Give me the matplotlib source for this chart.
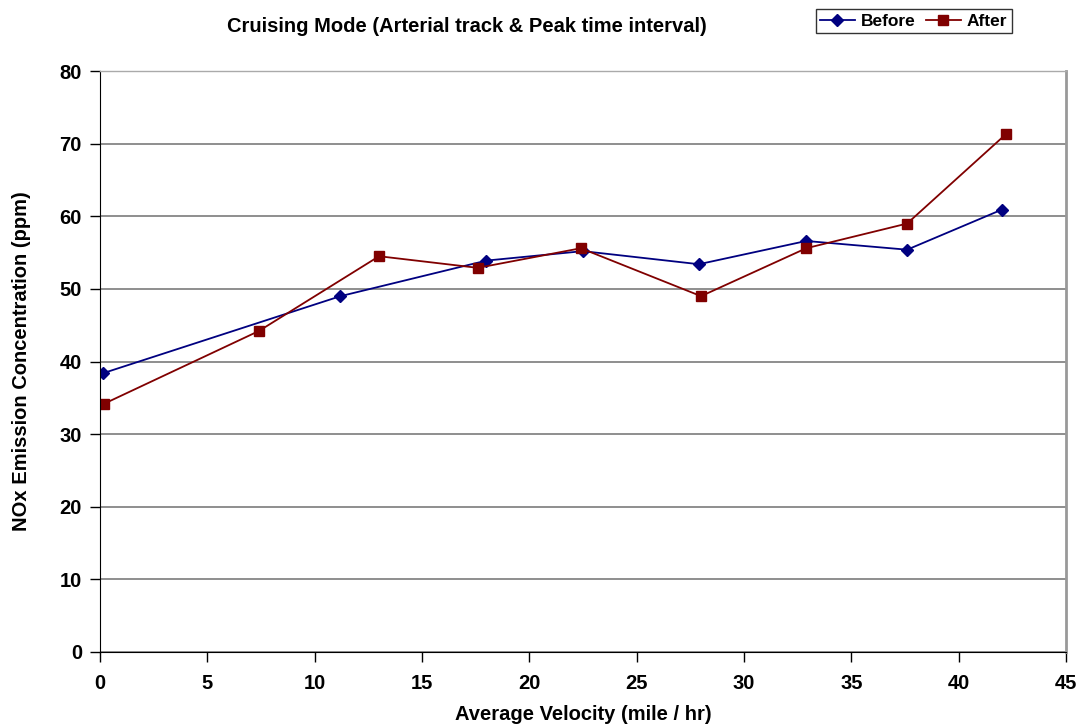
import matplotlib
matplotlib.use("Agg")
import matplotlib.pyplot as plt

plt.rcParams['font.family'] = ['Liberation Sans', 'DejaVu Sans']
plt.rcParams['font.weight'] = 'bold'

# NOx readings, cruising mode on the arterial track at peak time
before_v = [0.15, 11.2, 18.0, 22.5, 27.9, 32.9, 37.6, 42.0]
before_nox = [38.4, 49.0, 53.9, 55.2, 53.4, 56.6, 55.4, 60.9]
after_v = [0.2, 7.4, 13.0, 17.6, 22.4, 28.0, 32.9, 37.6, 42.2]
after_nox = [34.2, 44.2, 54.5, 52.9, 55.6, 49.0, 55.6, 59.0, 71.3]

fig = plt.figure(figsize=(10.8, 7.25), dpi=100)
ax = fig.add_axes([0.0926, 0.1007, 0.8944, 0.8013])

ax.plot(before_v, before_nox, color='#000080', marker='D', markersize=6,
        linewidth=1.3, label='Before')
ax.plot(after_v, after_nox, color='#800000', marker='s', markersize=7,
        linewidth=1.3, label='After')

ax.set_xlim(0, 45)
ax.set_ylim(0, 80)
ax.set_xticks(range(0, 46, 5))
ax.set_yticks(range(0, 81, 10))
ax.yaxis.grid(True, color='#707070', linewidth=1.1)
ax.set_axisbelow(True)
ax.tick_params(axis='both', labelsize=14.5, direction='out', length=7, width=1)
ax.tick_params(axis='x', pad=9)
ax.tick_params(axis='y', pad=6)
for lab in ax.get_xticklabels() + ax.get_yticklabels():
    lab.set_fontweight('bold')

ax.spines['left'].set_color('black')
ax.spines['bottom'].set_color('black')
ax.spines['right'].set_color('#999999')
ax.spines['top'].set_color('#aaaaaa')
ax.spines['right'].set_linewidth(2)
ax.spines['top'].set_linewidth(1)

ax.set_xlabel('Average Velocity (mile / hr)', fontsize=14.5, fontweight='bold')
ax.xaxis.label.set_va('center')
ax.xaxis.set_label_coords(0.5, -0.108)
ax.set_ylabel('NOx Emission Concentration (ppm)', fontsize=14.5, fontweight='bold')
ax.yaxis.set_label_coords(-0.071, 0.5)
fig.text(0.432, 0.963, 'Cruising Mode (Arterial track & Peak time interval)',
         ha='center', va='center', fontsize=14.5, fontweight='bold')

leg = fig.legend(loc='center', bbox_to_anchor=(0.846, 0.971), ncol=2,
                 frameon=True, fancybox=False, edgecolor='black',
                 handlelength=2.0, columnspacing=0.6, handletextpad=0.35,
                 borderpad=0.25, prop={'weight': 'bold', 'size': 12.5})
leg.get_frame().set_linewidth(1)

fig.savefig('out.png', dpi=100)
